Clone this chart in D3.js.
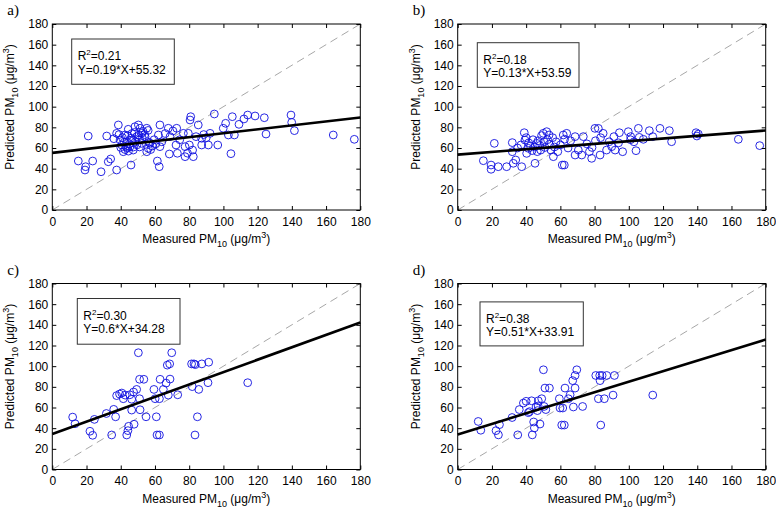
<!DOCTYPE html>
<html><head><meta charset="utf-8">
<script src="https://cdn.jsdelivr.net/npm/d3@7"></script>
<style>
body{margin:0;background:#fff;}
svg{display:block;}
text{font-family:"Liberation Sans",Arial,Helvetica,sans-serif;}
</style></head>
<body><svg id="chart" width="776" height="510"></svg>
<script>
// ---------- DATA ----------
const panelLabels = ["a)", "b)", "c)", "d)"];
const r2Labels = ["0.21", "0.18", "0.30", "0.38"];
const eqLabels = ["Y=0.19*X+55.32", "Y=0.13*X+53.59", "Y=0.6*X+34.28", "Y=0.51*X+33.91"];
const slopes = [0.19, 0.13, 0.6, 0.51];
const intercepts = [55.32, 53.59, 34.28, 33.91];
const tickValues = [0, 20, 40, 60, 80, 100, 120, 140, 160, 180];

const aX = [15.2,19.5,19.1,21.0,23.6,28.5,31.8,32.7,34.1,37.6,38.6,37.6,39.6,40.6,41.5,42.5,44.4,43.5,45.4,46.4,46.0,48.3,50.3,51.3,52.2,49.3,54.2,55.2,56.1,55.2,57.1,52.2,47.3,62.0,62.9,62.9,61.4,62.5,67.8,68.8,68.4,72.7,72.3,73.1,76.6,77.6,77.6,80.9,80.5,79.5,82.4,85.3,87.3,87.3,80.1,
  94.7,92.2,91.2,96.7,99.9,101.3,105.2,102.9,106.4,104.4,109.1,112.0,114.2,118.5,123.9,124.9,139.5,139.9,141.5,164.2,176.5,
  41.0,42.0,43.0,44.0,45.0,46.0,47.5,48.5,50.5,51.0,52.5,53.0,54.0,56.5,57.5,58.5,59.5,60.5,44.5,44.0,48.0,51.0,49.5,64.0,66.0,70.5,74.5,84.0,88.5,90.0,82.0,79.0,40.0,42.5,46.5,39.0,36.0,56.0];
const aY = [47.4,41.9,38.7,71.6,47.4,37.0,71.6,46.7,49.4,38.7,82.3,74.2,67.7,62.9,56.4,72.6,78.1,66.1,61.3,67.7,43.5,80.6,82.3,79.1,74.2,71.0,71.0,79.1,59.7,56.4,64.5,64.5,58.0,72.6,82.3,61.3,47.4,41.9,79.1,71.0,54.2,79.1,62.9,54.9,74.2,61.3,51.6,90.3,87.1,74.2,51.6,82.3,69.4,62.9,62.9,
  92.9,74.2,62.9,62.9,79.1,83.9,90.3,72.6,72.6,54.5,82.9,88.1,91.9,91.0,89.3,73.5,91.9,84.8,76.8,72.6,68.4,
  70.0,65.5,61.5,60.0,64.0,69.5,61.0,66.0,72.5,68.0,70.0,76.0,73.0,65.5,58.5,62.0,68.0,64.0,57.0,72.0,75.0,61.0,63.0,66.0,74.0,76.5,68.0,71.0,73.0,70.0,58.0,55.0,60.5,58.5,74.0,73.0,69.0,77.0];

const bX = [15.0,19.5,19.5,21.4,23.7,28.6,31.9,32.5,33.9,31.9,37.4,38.9,39.3,41.3,40.3,45.2,46.2,50.0,52.0,53.4,55.9,61.1,62.3,61.7,63.7,68.6,68.6,73.4,72.5,78.3,80.2,82.2,83.2,91.3,94.5,92.0,96.4,99.7,101.1,104.2,105.6,106.1,108.5,112.0,114.0,118.2,123.7,125.0,139.3,139.8,140.6,164.0,176.5,
  35.0,37.0,40.0,41.5,42.5,43.5,44.0,45.0,46.5,47.0,48.0,48.5,49.0,50.5,51.0,52.5,53.5,54.5,55.5,56.5,57.5,58.5,60.0,62.5,64.5,66.0,70.5,75.5,77.0,78.5,80.5,83.5,85.0,87.0,88.5,90.0,94.0,101.0,103.0];
const bY = [47.7,43.5,39.4,64.5,41.9,41.9,65.2,45.2,48.4,56.4,41.9,74.8,67.7,59.7,54.8,45.2,64.5,74.2,75.8,72.6,51.6,43.5,43.5,72.6,74.2,53.2,71.0,71.0,53.2,50.0,79.0,79.0,53.2,71.0,74.8,58.0,56.4,75.8,71.0,57.4,79.0,70.3,68.4,76.8,71.0,79.0,76.8,66.1,74.8,71.6,73.5,68.4,62.3,
  60.0,63.0,70.0,65.0,62.0,57.5,68.0,61.0,56.5,67.0,62.5,58.0,72.0,66.0,60.5,68.0,63.5,58.0,70.0,61.0,66.0,56.5,63.0,68.5,60.0,67.0,58.0,64.0,56.5,60.5,67.0,70.0,74.2,58.0,66.0,61.3,65.0,68.0,66.0];

const cX = [11.9,13.3,22.0,23.6,24.6,31.6,34.7,35.9,37.0,37.6,39.3,40.6,41.5,42.6,43.5,44.2,44.6,45.3,46.4,46.4,47.5,47.8,49.3,50.3,51.0,51.0,51.3,53.5,54.8,59.4,60.1,60.8,61.2,62.6,62.6,63.0,64.9,66.5,67.2,67.8,68.6,68.8,69.8,73.3,81.4,81.8,82.8,83.6,83.4,84.8,85.6,87.4,91.4,91.0,114.2];
const cY = [50.7,44.3,37.0,33.1,48.5,54.2,33.4,58.2,51.0,71.5,73.0,74.0,68.5,72.0,33.4,37.6,41.8,72.3,68.0,57.5,75.0,43.8,77.5,113.0,87.3,68.5,57.8,87.3,51.0,77.5,68.5,51.0,33.4,33.4,68.5,87.3,77.5,83.6,101.0,72.0,102.2,87.5,113.0,72.3,102.2,80.2,102.2,101.5,33.4,51.0,77.5,102.2,103.8,84.0,84.0];

const dX = [12.0,13.5,22.4,23.8,24.4,31.8,35.1,36.0,38.4,40.0,41.3,43.2,43.6,44.4,44.8,45.8,46.6,47.1,48.1,49.1,50.1,50.5,51.0,51.5,53.6,59.4,59.8,60.8,62.3,61.4,62.7,64.7,65.7,67.2,67.6,68.6,68.6,69.6,73.0,80.7,82.2,83.2,83.0,84.4,83.6,85.7,87.1,90.8,91.6,114.0,42.0,47.0];
const dY = [46.5,38.0,37.6,33.5,43.4,50.3,33.5,58.0,64.3,66.0,55.0,66.5,33.5,46.0,40.2,60.5,57.0,66.5,44.0,68.5,96.5,61.0,78.8,58.0,78.8,68.5,59.5,43.0,43.0,59.5,78.8,68.5,72.3,86.0,60.5,78.8,91.0,96.5,61.0,91.0,68.5,86.0,91.0,91.0,43.0,68.5,91.0,72.0,91.0,72.0,56.0,61.5];

const panelX = [aX, bX, cX, dX];
const panelY = [aY, bY, cY, dY];

// ---------- LAYOUT ----------
const svg = d3.select("#chart");
const W = 308, H = 186;
const origins = [[52.3, 24], [457.7, 24], [52.3, 283.5], [457.7, 283.5]];
const boxes = [[19.4, 15, 102.6, 45.3], [19.6, 18.7, 101.7, 44.6], [25, 15, 102.7, 45.7], [22.3, 18.4, 103.3, 44]];

const x = d3.scaleLinear().domain([0, 180]).range([0, W]);
const y = d3.scaleLinear().domain([0, 180]).range([H, 0]);

panelLabels.forEach((lab, i) => {
  const [ox, oy] = origins[i];
  const g = svg.append("g").attr("transform", `translate(${ox},${oy})`);

  // panel label
  svg.append("text").attr("x", ox - 45).attr("y", oy - 9)
    .style("font-family", "'Liberation Serif','Times New Roman',serif")
    .attr("font-size", 15).text(lab);

  // 1:1 dashed line
  g.append("line").attr("x1", x(0)).attr("y1", y(0)).attr("x2", x(180)).attr("y2", y(180))
    .attr("stroke", "#909090").attr("stroke-width", 0.8).attr("stroke-dasharray", "8,5");

  // points
  g.selectAll("circle.pt").data(panelX[i].map((v, k) => [v, panelY[i][k]])).enter()
    .append("circle").attr("class", "pt")
    .attr("cx", d => x(d[0])).attr("cy", d => y(d[1])).attr("r", 3.9)
    .attr("fill", "none").attr("stroke", "#1010e0").attr("stroke-width", 0.9);

  // regression line
  g.append("line").attr("x1", x(0)).attr("y1", y(intercepts[i]))
    .attr("x2", x(180)).attr("y2", y(intercepts[i] + slopes[i] * 180))
    .attr("stroke", "#000").attr("stroke-width", 2.6);

  // axes (inward ticks)
  const fmt = d3.format("d");
  g.append("g").attr("transform", `translate(0,${H})`)
    .call(d3.axisBottom(x).tickValues(tickValues).tickFormat(fmt).tickSizeInner(-4).tickSizeOuter(0).tickPadding(7));
  g.append("g")
    .call(d3.axisLeft(y).tickValues(tickValues).tickFormat(fmt).tickSizeInner(-4).tickSizeOuter(0).tickPadding(4));
  g.append("g").call(d3.axisTop(x).tickValues(tickValues).tickFormat("").tickSizeInner(-4).tickSizeOuter(0));
  g.append("g").attr("transform", `translate(${W},0)`)
    .call(d3.axisRight(y).tickValues(tickValues).tickFormat("").tickSizeInner(-4).tickSizeOuter(0));
  g.selectAll(".domain").remove();
  g.selectAll(".tick line").attr("stroke", "#000");
  g.selectAll(".tick text").attr("font-size", 12).attr("fill", "#000")
    .style("font-family", "'Liberation Sans',Arial,sans-serif");

  g.append("rect").attr("x", 0).attr("y", 0).attr("width", W).attr("height", H)
    .attr("fill", "none").attr("stroke", "#000").attr("stroke-width", 1);

  // legend box
  const [bx, by, bw, bh] = boxes[i];
  g.append("rect").attr("x", bx).attr("y", by).attr("width", bw).attr("height", bh)
    .attr("fill", "#fff").attr("stroke", "#333").attr("stroke-width", 1);
  const t1 = g.append("text").attr("x", bx + 6).attr("y", by + 21).attr("font-size", 12);
  t1.append("tspan").text("R");
  t1.append("tspan").attr("dy", -5).attr("font-size", 8).text("2");
  t1.append("tspan").attr("dy", 5).text("=" + r2Labels[i]);
  g.append("text").attr("x", bx + 6).attr("y", by + 34.5).attr("font-size", 12).text(eqLabels[i]);

  // x label
  const xl = g.append("text").attr("x", W / 2).attr("y", H + 33).attr("text-anchor", "middle").attr("font-size", 12);
  xl.append("tspan").text("Measured PM");
  xl.append("tspan").attr("dy", 4).attr("font-size", 9).text("10");
  xl.append("tspan").attr("dy", -4).text(" (\u03bcg/m");
  xl.append("tspan").attr("dy", -5).attr("font-size", 9).text("3");
  xl.append("tspan").attr("dy", 5).text(")");

  // y label
  const yl = g.append("text").attr("transform", `translate(-38,${H / 2 - 10}) rotate(-90)`)
    .attr("text-anchor", "middle").attr("font-size", 12);
  yl.append("tspan").text("Predicted PM");
  yl.append("tspan").attr("dy", 4).attr("font-size", 9).text("10");
  yl.append("tspan").attr("dy", -4).text(" (\u03bcg/m");
  yl.append("tspan").attr("dy", -5).attr("font-size", 9).text("3");
  yl.append("tspan").attr("dy", 5).text(")");
});
</script></body></html>
